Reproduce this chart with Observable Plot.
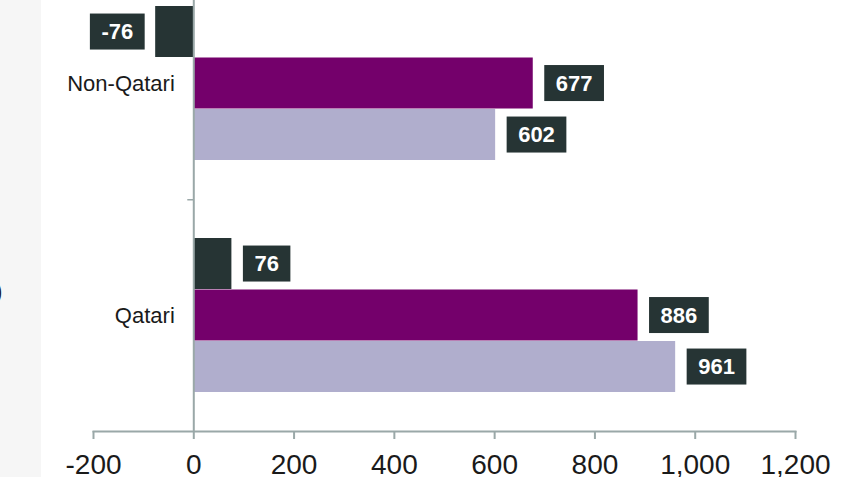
<!DOCTYPE html>
<html><head><meta charset="utf-8">
<script src="https://cdn.jsdelivr.net/npm/d3@7"></script>
<script src="https://cdn.jsdelivr.net/npm/@observablehq/plot@0.6"></script>
<style>
html,body{margin:0;padding:0;background:#fff;}
#wrap{position:relative;width:859px;height:477px;overflow:hidden;background:linear-gradient(to right,#f6f6f6 0,#f6f6f6 41px,#fff 41px);}
#wrap svg{position:absolute;left:0;top:0;}
#edge{position:absolute;left:-6px;top:276px;font:26px "Liberation Sans",Arial,sans-serif;color:#222;}
</style></head><body><div id="wrap"><div id="edge">)</div></div>
<script>
const categories = ["Non-Qatari", "Qatari"];
const seriesNames = ["Change", "Earlier", "Later"];
const changeValues = [-76, 76];
const earlierValues = [677, 886];
const laterValues = [602, 961];
const xTicks = [-200, 0, 200, 400, 600, 800, 1000, 1200];
const separators = ["Qatari"];

const seriesValues = {Change: changeValues, Earlier: earlierValues, Later: laterValues};
const rows = [];
categories.forEach((c, i) => seriesNames.forEach(s => rows.push({category: c, series: s, value: seriesValues[s][i]})));

const dark = "#263434", purple = "#74006b", lavender = "#b0aecd", axisColor = "#9aa8a8", textColor = "#1a1a1a";
const style = {
  Change:  {fill: dark,     insetTop: 39,   insetBottom: 142,  dy: -51.5},
  Earlier: {fill: purple,   insetTop: 90.5, insetBottom: 90.5, dy: 0},
  Later:   {fill: lavender, insetTop: 142,  insetBottom: 39,   dy: 51.5}
};
const fmt = v => (v < 0 ? "-" : "") + d3.format(",")(Math.abs(v));

const marks = [];
for (const s of seriesNames) {
  const st = style[s];
  marks.push(Plot.barX(rows.filter(d => d.series === s), {x: "value", y: "category", fill: st.fill, insetTop: st.insetTop, insetBottom: st.insetBottom}));
}
for (const s of seriesNames) {
  const st = style[s];
  const common = {x: "value", y: "category", text: d => fmt(d.value), dy: st.dy, fill: "white", fontWeight: "bold", fontSize: 22, lineAnchor: "middle"};
  const pos = rows.filter(d => d.series === s && d.value >= 0);
  const neg = rows.filter(d => d.series === s && d.value < 0);
  if (pos.length) marks.push(Plot.text(pos, {...common, textAnchor: "start", dx: 22.5}));
  if (neg.length) marks.push(Plot.text(neg, {...common, textAnchor: "end", dx: -22.5}));
}

const chart = Plot.plot({
  width: 859, height: 477,
  marginTop: 0, marginLeft: 93, marginRight: 64, marginBottom: 46,
  style: {background: "transparent", fontFamily: "'Liberation Sans', Arial, sans-serif", color: textColor},
  x: {domain: [xTicks[0], xTicks[xTicks.length - 1]]},
  y: {domain: categories, range: [-33, 431], padding: 0, axis: null},
  marks: [
    ...marks,
    Plot.ruleX([0], {stroke: axisColor, strokeWidth: 2}),
    Plot.frame({anchor: "bottom", stroke: axisColor, strokeWidth: 2}),
    Plot.barX(separators, {y: d => d, x1: () => 0, x2: () => 0, insetLeft: -6, insetTop: 0, insetBottom: 230.5, fill: axisColor}),
    Plot.axisX({ticks: xTicks, tickFormat: fmt, tickSize: 8, tickPadding: 15, fontSize: 28, stroke: axisColor, strokeWidth: 2, fill: textColor, label: null}),
    Plot.text(categories, {x: () => 0, y: d => d, text: d => d, textAnchor: "end", dx: -19, fontSize: 22, fill: textColor, lineAnchor: "middle"})
  ]
});
document.getElementById("wrap").appendChild(chart);

chart.querySelectorAll("text").forEach(t => {
  if (getComputedStyle(t).fill !== "rgb(255, 255, 255)") return;
  const b = t.getBBox();
  const r = document.createElementNS("http://www.w3.org/2000/svg", "rect");
  const cy = b.y + b.height / 2;
  r.setAttribute("x", b.x - 11.5);
  r.setAttribute("width", b.width + 23);
  r.setAttribute("y", cy - 18);
  r.setAttribute("height", 36);
  r.setAttribute("fill", dark);
  if (t.getAttribute("transform")) r.setAttribute("transform", t.getAttribute("transform"));
  t.parentNode.insertBefore(r, t);
});
</script>
</body></html>
